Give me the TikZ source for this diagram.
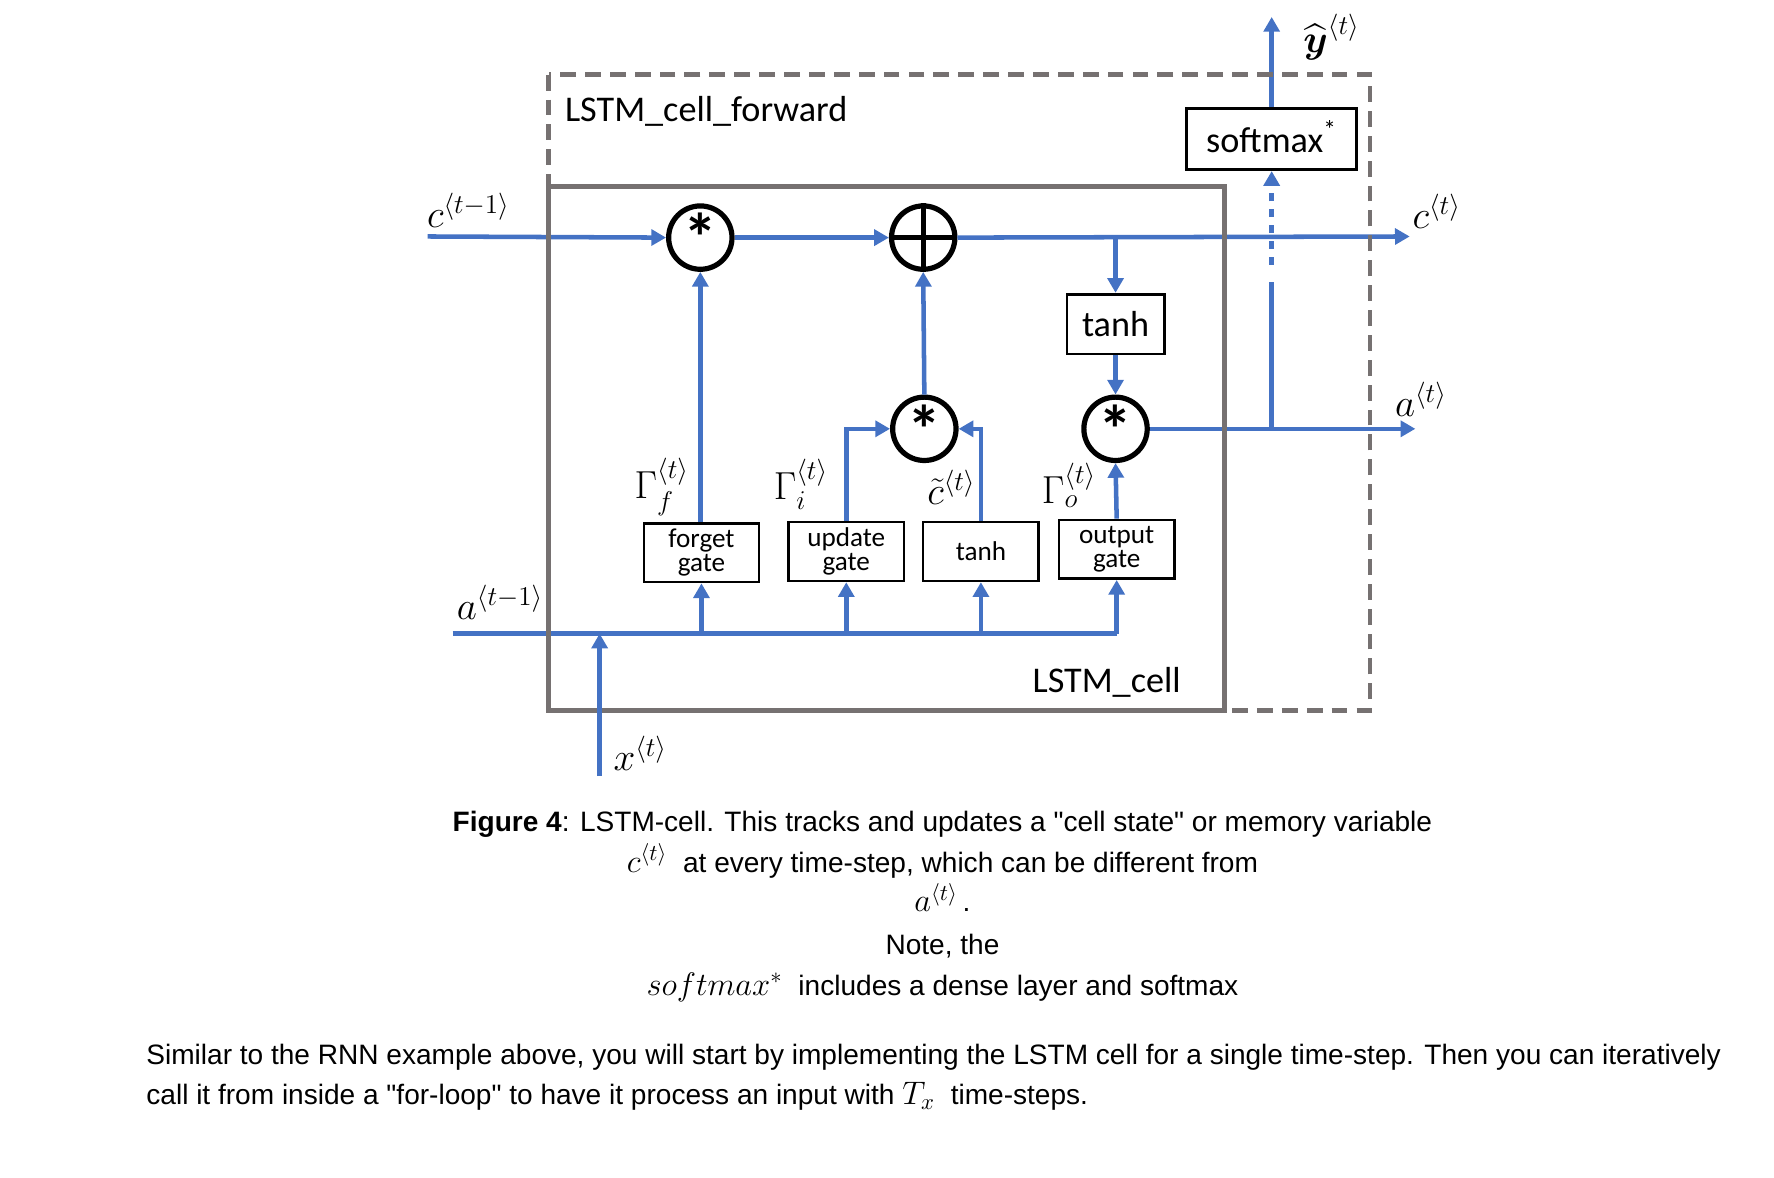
\documentclass[tikz,border=0pt]{standalone}
\usepackage{fontspec}
\usepackage{amsmath}
\setmainfont{Liberation Sans}[Ligatures=TeXOff]
\newfontfamily\carl{Carlito}
\usetikzlibrary{arrows.meta}
\definecolor{lblue}{RGB}{68,114,196}
\definecolor{lgray}{RGB}{118,113,113}
\newcommand\capm[1]{{\fontsize{14}{15}\selectfont$#1$}}
\begin{document}
\begin{tikzpicture}[x=0.5pt,y=-0.5pt,
  bl/.style={draw=lblue,line width=2pt},
  arr/.style={bl,-{Triangle[length=6.5pt,width=7pt]}},
  op/.style={circle,draw=black,line width=2.3pt,minimum size=28pt,inner sep=0pt,fill=white},
  gatebox/.style={draw=black,line width=1.1pt,minimum width=51pt,minimum height=26pt,inner sep=0pt,
    align=center,font=\carl\fontsize{12}{9.5}\selectfont},
  bigbox/.style={draw=black,line width=1.2pt,inner sep=0pt,font=\carl\fontsize{16}{18}\selectfont},
  mlab/.style={inner sep=0pt,font=\fontsize{17.5}{19}\selectfont},
  dlab/.style={inner sep=0pt,font=\carl\fontsize{16}{18}\selectfont},
  captext/.style={inner sep=0pt,font=\fontsize{12.4}{15}\selectfont},
  opstar/.style={font=\carl\bfseries\fontsize{30}{30}\selectfont}
]
\useasboundingbox (0,0) rectangle (1568,1041);

% operators
\node[op] (m1) at (619,210) {};
\node[opstar] at (m1) {\raisebox{-0.47em}{*}};
\node[op] (p) at (816,210) {};
\draw[line width=2.3pt] (p.north) -- (p.south) (p.west) -- (p.east);
\node[op] (m2) at (817,379) {};
\node[opstar] at (m2) {\raisebox{-0.47em}{*}};
\node[op] (m3) at (986,379) {};
\node[opstar] at (m3) {\raisebox{-0.47em}{*}};

% boxes
\node[bigbox,minimum width=43pt,minimum height=26.5pt] (th) at (986,286.5) {tanh};
\node[bigbox,minimum width=75pt,minimum height=27pt] (sm) at (1124,123) {\raisebox{0.15em}{softmax\textsuperscript{*}}};
\node[gatebox] (fg) at (620,488.5) {forget\\gate};
\node[gatebox] (ug) at (748,487.5) {update\\gate};
\node[gatebox] (ct) at (867,487.5) {tanh};
\node[gatebox] (og) at (987,485.5) {output\\gate};

% coordinates
\coordinate (cin) at (378,209);
\coordinate (cout) at (1246,209);
\coordinate (aout) at (1251,379);
\coordinate (ain) at (400,560);
\coordinate (xin) at (530,686);
\coordinate (yhat) at (1124,15);
\coordinate (ja) at (1124,379);
\coordinate (jb) at (1124,249);
\coordinate (jc) at (1124,234);

% cell state line
\draw[arr] (cin) -- (m1.west);
\draw[arr] (m1.east) -- (p.west);
\draw[arr] (p.east) -- (cout);
\draw[arr] (th.north |- p.east) -- (th.north);
\draw[arr] (th.south) -- (m3.north);
\draw[arr] (m3.east) -- (aout);
\draw[bl] (ja) -- (jb);
\draw[arr,dash pattern=on 3.5pt off 3.5pt] (jc) -- (sm.south);
\draw[arr] (sm.north) -- (yhat);

% gates to operators
\draw[arr] (m1.south |- fg.north) -- (m1.south);
\draw[arr] (ug.north) |- (m2.west);
\draw[arr] (ct.north) |- (m2.east);
\draw[arr] (m2.north) -- (p.south);
\draw[arr] (og.north) -- (m3.south);

% a^{t-1} bus
\draw[bl] (ain) -- (og.south |- ain);
\foreach \g in {fg,ug,ct,og} \draw[arr] (\g.south |- ain) -- (\g.south);

% cell boxes
\draw[lgray,line width=2pt,dash pattern=on 7pt off 4pt] (485,66) rectangle (1211,628);
\draw[lgray,line width=2.2pt] (485,165) rectangle (1082,628);
\draw[arr] (xin) -- (xin |- ain);

\node[dlab,anchor=west] (lf) at (499,98) {LSTM\_cell\_forward};
\node[dlab,anchor=east] (lc) at (1044,603) {LSTM\_cell};

% math labels
\node[mlab] (l1) at (414,186) {$c^{\langle t-1\rangle}$};
\node[mlab] (l2) at (442,532) {$a^{\langle t-1\rangle}$};
\node[mlab] (l3) at (566,666) {$x^{\langle t\rangle}$};
\node[mlab] (l4) at (1270,187) {$c^{\langle t\rangle}$};
\node[mlab] (l5) at (1256,353) {$a^{\langle t\rangle}$};
\node[mlab] (l6) at (1177,33) {$\widehat{\boldsymbol{y}}^{\langle t\rangle}$};
\node[mlab] (l7) at (585,430) {$\Gamma_f^{\langle t\rangle}$};
\node[mlab] (l8) at (708,428) {$\Gamma_i^{\langle t\rangle}$};
\node[mlab] (l9) at (841,431) {$\tilde{c}^{\langle t\rangle}$};
\node[mlab] (l10) at (945,429) {$\Gamma_o^{\langle t\rangle}$};

% caption
\node[captext,anchor=base] (k1) at (833,735) {\textbf{Figure 4}: LSTM-cell. This tracks and updates a "cell state" or memory variable};
\node[captext,anchor=base] (k2) at (833,771) {\capm{c^{\langle t\rangle}}\ \ at every time-step, which can be different from};
\node[captext,anchor=base] (k3) at (833,806) {\capm{a^{\langle t\rangle}}\,.};
\node[captext,anchor=base] (k4) at (833,844) {Note, the};
\node[captext,anchor=base] (k5) at (833,880) {\capm{softmax^{*}}\ \ includes a dense layer and softmax};
\node[captext,anchor=base west] (q1) at (129,941) {Similar to the RNN example above, you will start by implementing the LSTM cell for a single time-step. Then you can iteratively};
\node[captext,anchor=base west] (q2) at (129,976) {call it from inside a "for-loop" to have it process an input with \capm{T_x}\ \ time-steps.};
\end{tikzpicture}
\end{document}
